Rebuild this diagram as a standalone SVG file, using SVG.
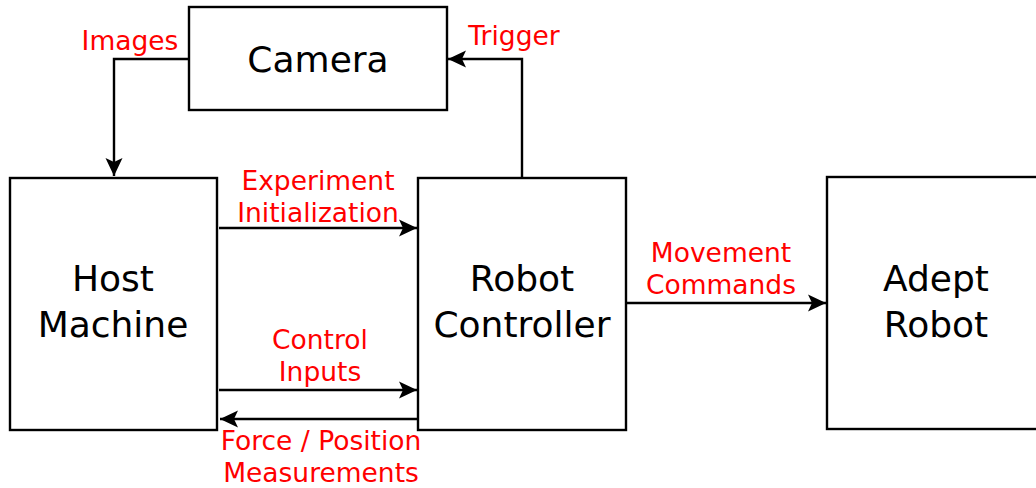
<svg xmlns="http://www.w3.org/2000/svg" width="1036" height="488" viewBox="0 0 1036 488">
  <defs>
    <style>
      .box { fill: #ffffff; stroke: #000000; stroke-width: 2.4; }
      .node-label { font-family: "DejaVu Sans", "Liberation Sans", sans-serif; font-size: 36px; fill: #000000; text-anchor: middle; }
      .edge { fill: none; stroke: #000000; stroke-width: 2.4; marker-end: url(#arrow); }
      .edge-label { font-family: "DejaVu Sans", "Liberation Sans", sans-serif; font-size: 26.5px; fill: #ff0000; text-anchor: middle; }
    </style>
    <marker id="arrow" markerUnits="userSpaceOnUse" markerWidth="24" markerHeight="24" viewBox="-20 -12 24 24" refX="0" refY="0" orient="auto">
      <path d="M 0 0 L -18 -8.5 L -14 0 L -18 8.5 Z" fill="#000000"/>
    </marker>
  </defs>

  <!-- connectors -->
  <g id="connectors">
    <path class="edge" d="M 189 59 H 114 V 176"/>
    <path class="edge" d="M 522 177 V 59 H 448"/>
    <path class="edge" d="M 219 228 H 417"/>
    <path class="edge" d="M 219 390 H 417"/>
    <path class="edge" d="M 418 419 H 220"/>
    <path class="edge" d="M 626 303 H 826"/>

    <text class="edge-label" x="130" y="50">Images</text>
    <text class="edge-label" x="514" y="45">Trigger</text>
    <text class="edge-label" x="318" y="190">Experiment</text>
    <text class="edge-label" x="318" y="222">Initialization</text>
    <text class="edge-label" x="320" y="349">Control</text>
    <text class="edge-label" x="320" y="381">Inputs</text>
    <text class="edge-label" x="321" y="450">Force / Position</text>
    <text class="edge-label" x="321" y="482">Measurements</text>
    <text class="edge-label" x="721" y="262">Movement</text>
    <text class="edge-label" x="721" y="294">Commands</text>
  </g>

  <!-- nodes -->
  <g id="camera">
    <rect class="box" x="189" y="7" width="258" height="103"/>
    <text class="node-label" x="318" y="72">Camera</text>
  </g>
  <g id="host-machine">
    <rect class="box" x="10" y="178" width="207" height="252"/>
    <text class="node-label" x="113" y="291">Host</text>
    <text class="node-label" x="113" y="337">Machine</text>
  </g>
  <g id="robot-controller">
    <rect class="box" x="418" y="178" width="208" height="252"/>
    <text class="node-label" x="522" y="291">Robot</text>
    <text class="node-label" x="522" y="337">Controller</text>
  </g>
  <g id="adept-robot">
    <rect class="box" x="827" y="177" width="220" height="252"/>
    <text class="node-label" x="936" y="291">Adept</text>
    <text class="node-label" x="936" y="337">Robot</text>
  </g>
</svg>
